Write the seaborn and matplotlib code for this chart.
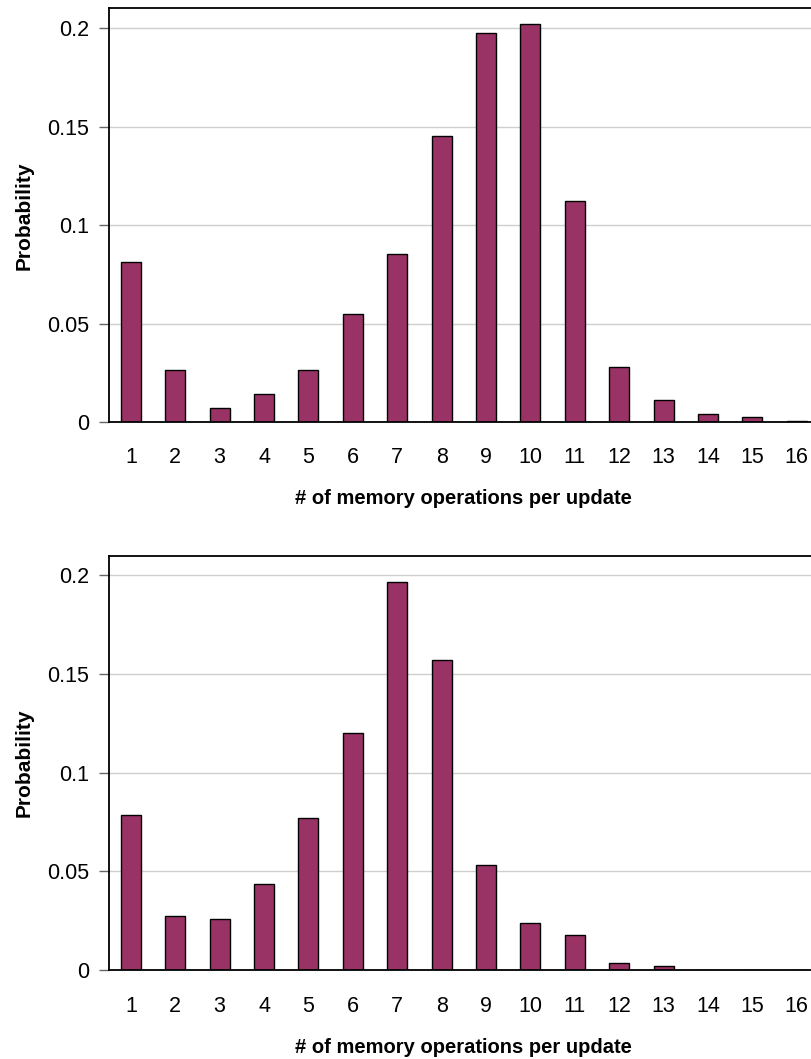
import matplotlib
matplotlib.use("Agg")
import matplotlib.pyplot as plt
import seaborn as sns
import numpy as np

categories = [str(i) for i in range(1, 17)]
prob_top = [0.0811, 0.0265, 0.0071, 0.0142, 0.0265, 0.0547, 0.0855, 0.1453,
            0.1975, 0.2019, 0.1120, 0.0282, 0.0115, 0.0044, 0.0027, 0.0008]
prob_bottom = [0.0786, 0.0274, 0.0257, 0.0434, 0.0769, 0.1201, 0.1965, 0.1570,
               0.0531, 0.0238, 0.0177, 0.0037, 0.0020, 0.0, 0.0, 0.0]
yticks = [0, 0.05, 0.1, 0.15, 0.2]
ytick_labels = ["0", "0.05", "0.1", "0.15", "0.2"]
xlabel = "# of memory operations per update"
ylabel = "Probability"

sns.set_style("white")
plt.rcParams['font.family'] = ['Liberation Sans', 'DejaVu Sans']
plt.rcParams['text.color'] = 'black'
plt.rcParams['axes.labelcolor'] = 'black'
plt.rcParams['xtick.color'] = 'black'
plt.rcParams['ytick.color'] = 'black'

fig = plt.figure(figsize=(8.11, 10.59), dpi=100)
W, H = 811, 1059

def make_panel(rect_px, values, xlabel_top_px, xpad):
    x0, y0, x1, y1 = rect_px
    ax = fig.add_axes([x0 / W, 1 - y1 / H, (x1 - x0) / W, (y1 - y0) / H])
    sns.barplot(x=categories, y=values, color="#993366", saturation=1,
                edgecolor="black", linewidth=1.0, width=0.45, ax=ax)
    ax.set_xlim(-0.5, 15.5)
    ax.set_ylim(0, 0.21)
    ax.set_yticks(yticks)
    ax.set_yticklabels(ytick_labels)
    ax.yaxis.grid(True, color="#cfcfcf", linewidth=1.0)
    ax.xaxis.grid(False)
    ax.set_axisbelow(True)
    for s in ["left", "top", "bottom", "right"]:
        ax.spines[s].set_visible(True)
        ax.spines[s].set_color("black")
        ax.spines[s].set_linewidth(1.3)
    ax.tick_params(axis="y", which="major", length=7, width=1.0, color="#666666",
                   direction="out", left=True, pad=7, labelsize=15.5, labelcolor="black")
    ax.tick_params(axis="x", which="major", length=0, pad=xpad, labelsize=15.5,
                   labelcolor="black")
    ax.set_xlabel(xlabel, fontsize=14.5, fontweight="bold", color="black")
    ax.set_ylabel(ylabel, fontsize=15, fontweight="bold", color="black")
    hpx = y1 - y0
    wpx = x1 - x0
    ax.xaxis.set_label_coords(0.5 + (463.5 - (x0 + x1) / 2) / wpx,
                              -(xlabel_top_px - y1) / hpx)
    ax.yaxis.set_label_coords(-(x0 - 33.5) / wpx, 0.5)
    return ax

ax1 = make_panel((108.7, 8.3, 818.9, 422.3), prob_top, 488.5, 18)
ax2 = make_panel((108.7, 555.7, 818.9, 970.0), prob_bottom, 1038.0, 19)

fig.savefig("out.png", dpi=100)
